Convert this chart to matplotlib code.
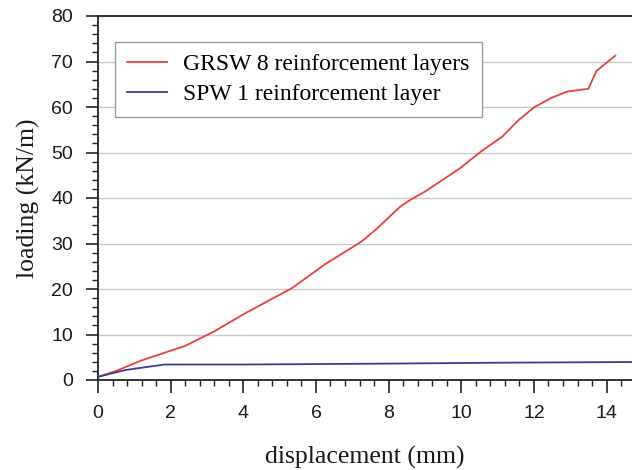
import matplotlib
matplotlib.use("Agg")
import matplotlib.pyplot as plt
from matplotlib.ticker import MultipleLocator

grsw_x = [0.0, 0.5, 1.2, 2.4, 3.18, 4.06, 5.32, 6.28, 7.25, 7.64, 8.32, 8.6, 9.0, 9.96, 10.54, 11.13, 11.56, 12.0, 12.48, 12.92, 13.5, 13.72, 13.98, 14.24]
grsw_y = [0.7, 2.0, 4.3, 7.5, 10.6, 14.7, 20.1, 25.6, 30.4, 33.0, 38.1, 39.6, 41.4, 46.5, 50.2, 53.5, 57.0, 59.9, 62.0, 63.4, 64.0, 67.9, 69.6, 71.3]
spw_x = [0.0, 0.76, 1.83, 4.0, 7.93, 11.0, 14.7]
spw_y = [0.7, 2.2, 3.4, 3.4, 3.6, 3.8, 3.95]

xlabel = "displacement (mm)"
ylabel = "loading (kN/m)"
labels = ["GRSW 8 reinforcement layers", "SPW 1 reinforcement layer"]

fig = plt.figure(figsize=(6.32, 4.70), dpi=100)
ax = fig.add_axes([98/632, 1-380/470, 1-98/632, (380-16)/470])
serif = ["Liberation Serif", "DejaVu Serif"]
sans = ["Liberation Sans", "DejaVu Sans"]

ax.plot(grsw_x, grsw_y, color="#e8413c", lw=1.3, label=labels[0], zorder=3)
ax.plot(spw_x, spw_y, color="#3b3b9c", lw=1.3, label=labels[1], zorder=3)

ax.set_xlim(0, 14.7)
ax.set_ylim(0, 80)
ax.xaxis.set_major_locator(MultipleLocator(2))
ax.xaxis.set_minor_locator(MultipleLocator(0.4))
ax.yaxis.set_major_locator(MultipleLocator(10))
ax.yaxis.set_minor_locator(MultipleLocator(2))
ax.grid(axis="y", which="major", color="#c8c8c8", lw=1.0)
ax.set_axisbelow(True)

ax.tick_params(which="major", direction="out", length=9, width=1.2, color="#222222", labelsize=14)
ax.tick_params(which="minor", direction="out", length=4, width=1.0, color="#222222")
ax.tick_params(axis="x", pad=9)
ax.tick_params(axis="y", pad=9)
for lab in ax.get_xticklabels() + ax.get_yticklabels():
    lab.set_family(sans)
    lab.set_color("#1a1a1a")

ax.spines["right"].set_visible(False)
for s in ["left", "bottom", "top"]:
    ax.spines[s].set_linewidth(1.3)
    ax.spines[s].set_color("#222222")

ax.set_xlabel(xlabel, family=serif, fontsize=18.5, labelpad=17, color="#1a1a1a")
ax.set_ylabel(ylabel, family=serif, fontsize=18.5, labelpad=8, color="#1a1a1a")

leg = ax.legend(loc="upper left", bbox_to_anchor=(17/534, 1-26/364), borderaxespad=0,
                prop={"family": serif, "size": 17},
                frameon=True, fancybox=False, edgecolor="#9a9a9a", framealpha=1,
                handlelength=1.7, handletextpad=0.7, borderpad=0.5, labelspacing=0.35)
leg.get_frame().set_linewidth(1.0)

fig.savefig("out.png", dpi=100)
